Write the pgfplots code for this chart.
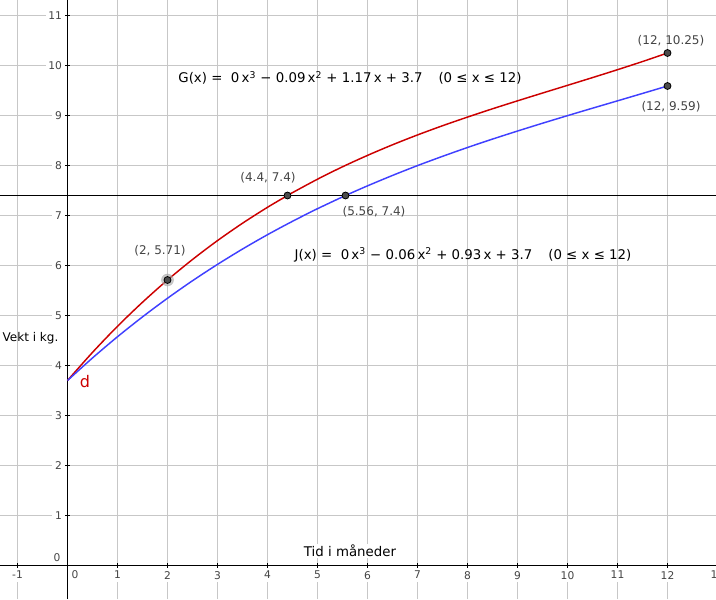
\documentclass[border=0pt]{standalone}
\usepackage{pgfplots}
\pgfplotsset{compat=1.18}
\usepackage{fontspec}
\setmainfont{DejaVu Sans}
\definecolor{gred}{RGB}{204,0,0}
\definecolor{gblue}{RGB}{64,64,255}
\definecolor{glab}{RGB}{68,68,68}
\begin{document}
\begin{tikzpicture}
\begin{axis}[
  scale only axis, width=537pt, height=449.25pt,
  xmin=-1.35, xmax=12.97, ymin=-0.67, ymax=11.31,
  axis lines=middle, axis line style={-, black, line width=0.8pt},
  xtick={-1,1,2,...,12}, ytick={1,2,...,11},
  grid=major, grid style={black!22, line width=0.7pt},
  major tick length=4pt, tick style={black, line width=0.6pt},
  /pgf/number format/assume math mode=true,
  ticklabel style={font=\fontsize{8}{9}\selectfont, text=glab, fill=white, inner sep=2pt},
  clip=false,
]
% G(x) og J(x), lest av figuren
\addplot[gred, line width=1.1pt, smooth] coordinates {
 (0,3.7) (0.5,4.262) (1,4.784) (1.5,5.265) (2,5.71) (2.5,6.12) (3,6.498)
 (3.5,6.845) (4,7.164) (4.4,7.4) (4.5,7.457) (5,7.726) (5.5,7.974) (6,8.202)
 (6.5,8.414) (7,8.611) (7.5,8.795) (8,8.968) (8.5,9.134) (9,9.293) (9.5,9.449)
 (10,9.603) (10.5,9.758) (11,9.916) (11.5,10.079) (12,10.25)};
\addplot[gblue, line width=1.1pt, smooth] coordinates {
 (0,3.7) (0.5,4.151) (1,4.575) (1.5,4.972) (2,5.345) (2.5,5.695) (3,6.022)
 (3.5,6.329) (4,6.616) (4.5,6.884) (5,7.136) (5.5,7.372) (5.56,7.4) (6,7.593)
 (6.5,7.801) (7,7.998) (7.5,8.183) (8,8.36) (8.5,8.528) (9,8.689) (9.5,8.845)
 (10,8.997) (10.5,9.146) (11,9.293) (11.5,9.441) (12,9.59)};
% linja y = 7.4
\addplot[black, line width=0.8pt] coordinates {(-1.35,7.4) (12.97,7.4)};
% punkter
\addplot[only marks, mark=*, mark size=4.5pt, black!35, opacity=0.6] coordinates {(2,5.71)};
\addplot[only marks, mark=*, mark size=2.6pt, mark options={fill=black!70, draw=black, line width=0.6pt}]
  coordinates {(2,5.71) (4.4,7.4) (5.56,7.4) (12,10.25) (12,9.59)};

\begin{scope}[font=\fontsize{9}{10}\selectfont, text=glab]
\node at (axis cs:12.07,10.49) {(12, 10.25)};
\node at (axis cs:12.07,9.17) {(12, 9.59)};
\node at (axis cs:4.01,7.75) {(4.4, 7.4)};
\node at (axis cs:6.13,7.07) {(5.56, 7.4)};
\node at (axis cs:1.85,6.29) {(2, 5.71)};
\end{scope}
\begin{scope}[font=\fontsize{10}{12}\selectfont]
\node at (axis cs:5.65,9.75) {G(x) =~ 0\,x\textsuperscript{3} − 0.09\,x\textsuperscript{2} + 1.17\,x + 3.7\hspace{1.2em}(0 ≤ x ≤ 12)};
\node at (axis cs:7.91,6.21) {J(x) =~ 0\,x\textsuperscript{3} − 0.06\,x\textsuperscript{2} + 0.93\,x + 3.7\hspace{1.2em}(0 ≤ x ≤ 12)};
\node[font=\fontsize{9}{10}\selectfont] at (axis cs:-0.74,4.55) {Vekt i kg.};
\node[fill=white, inner sep=1pt] at (axis cs:5.65,0.29) {Tid i måneder};
\node[text=gred, font=\fontsize{12}{14}\selectfont] at (axis cs:0.35,3.67) {d};
\end{scope}
\begin{scope}[font=\fontsize{8}{9}\selectfont, text=glab]
\node at (axis cs:-0.21,0.15) {0};
\node at (axis cs:0.15,-0.19) {0};
\node[fill=white, inner sep=2pt] at (axis cs:13,-0.19) {13};
\end{scope}
\coordinate (bl) at (rel axis cs:0,0);
\coordinate (tr) at (rel axis cs:1,1);
\end{axis}
\pgfresetboundingbox
\path[use as bounding box] (bl) rectangle (tr);
\end{tikzpicture}
\end{document}
